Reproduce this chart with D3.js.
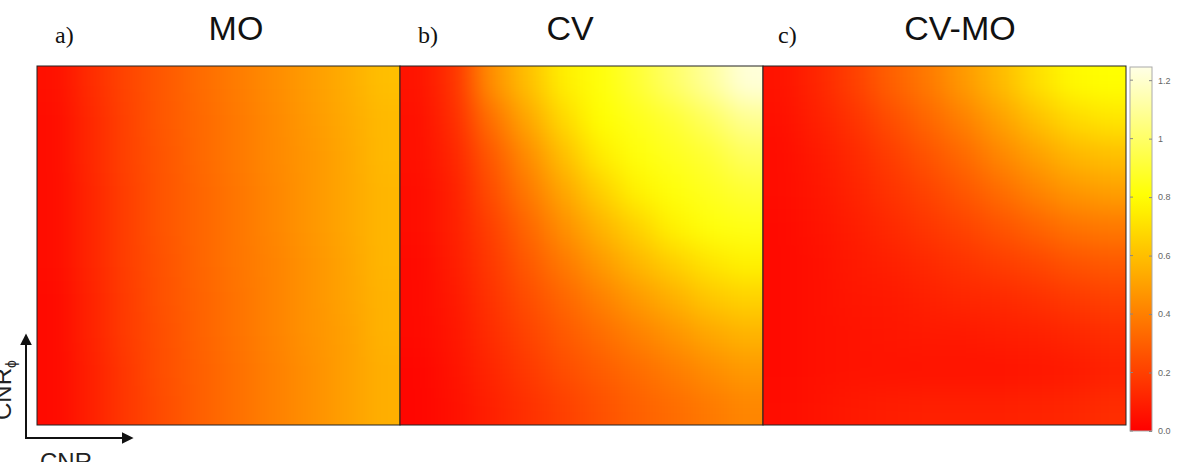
<!DOCTYPE html>
<html>
<head>
<meta charset="utf-8">
<script src="https://cdn.jsdelivr.net/npm/d3@7"></script>
<style>
  body { margin: 0; background: #fff; }
  svg { display: block; }
</style>
</head>
<body>
<div id="chart"></div>
<script>
// panel labels and titles
const panelLabels = ["a)", "b)", "c)"];
const panelTitles = ["MO", "CV", "CV-MO"];

// 10 x 10 grids, row 0 = top, col 0 = left
const moValues = [
  [0.05, 0.14, 0.22, 0.28, 0.34, 0.39, 0.44, 0.49, 0.54, 0.60],
  [0.04, 0.13, 0.21, 0.28, 0.33, 0.38, 0.43, 0.48, 0.53, 0.58],
  [0.04, 0.13, 0.21, 0.27, 0.33, 0.38, 0.43, 0.47, 0.52, 0.58],
  [0.04, 0.12, 0.20, 0.27, 0.32, 0.37, 0.42, 0.47, 0.52, 0.57],
  [0.04, 0.12, 0.20, 0.27, 0.32, 0.37, 0.42, 0.47, 0.52, 0.57],
  [0.04, 0.12, 0.20, 0.26, 0.32, 0.37, 0.41, 0.46, 0.51, 0.57],
  [0.03, 0.11, 0.19, 0.26, 0.31, 0.36, 0.41, 0.46, 0.51, 0.56],
  [0.03, 0.11, 0.19, 0.25, 0.31, 0.36, 0.41, 0.46, 0.50, 0.56],
  [0.03, 0.10, 0.18, 0.25, 0.30, 0.35, 0.40, 0.45, 0.50, 0.55],
  [0.03, 0.10, 0.18, 0.24, 0.30, 0.35, 0.40, 0.45, 0.50, 0.55]
];

const cvValues = [
  [0.06, 0.16, 0.45, 0.60, 0.75, 0.82, 0.90, 1.00, 1.10, 1.22],
  [0.05, 0.14, 0.35, 0.52, 0.68, 0.80, 0.85, 0.90, 0.98, 1.08],
  [0.05, 0.12, 0.28, 0.44, 0.60, 0.74, 0.82, 0.86, 0.90, 0.98],
  [0.04, 0.10, 0.24, 0.38, 0.52, 0.65, 0.76, 0.82, 0.86, 0.90],
  [0.04, 0.10, 0.20, 0.32, 0.45, 0.56, 0.66, 0.76, 0.82, 0.84],
  [0.03, 0.09, 0.18, 0.28, 0.38, 0.48, 0.57, 0.65, 0.72, 0.76],
  [0.03, 0.08, 0.16, 0.24, 0.32, 0.40, 0.48, 0.55, 0.62, 0.66],
  [0.03, 0.07, 0.14, 0.21, 0.28, 0.34, 0.40, 0.46, 0.52, 0.56],
  [0.02, 0.06, 0.12, 0.18, 0.24, 0.29, 0.34, 0.39, 0.44, 0.48],
  [0.02, 0.05, 0.10, 0.15, 0.20, 0.25, 0.30, 0.34, 0.38, 0.42]
];

const cvmoValues = [
  [0.06, 0.12, 0.20, 0.30, 0.38, 0.48, 0.58, 0.70, 0.78, 0.80],
  [0.05, 0.10, 0.16, 0.24, 0.32, 0.40, 0.50, 0.60, 0.68, 0.72],
  [0.04, 0.08, 0.13, 0.19, 0.26, 0.33, 0.42, 0.50, 0.57, 0.60],
  [0.04, 0.07, 0.11, 0.16, 0.21, 0.27, 0.34, 0.41, 0.47, 0.50],
  [0.03, 0.06, 0.09, 0.13, 0.17, 0.21, 0.26, 0.31, 0.36, 0.38],
  [0.03, 0.05, 0.08, 0.10, 0.13, 0.16, 0.19, 0.22, 0.26, 0.28],
  [0.03, 0.05, 0.07, 0.08, 0.10, 0.12, 0.13, 0.15, 0.18, 0.20],
  [0.03, 0.05, 0.06, 0.07, 0.08, 0.08, 0.09, 0.10, 0.12, 0.14],
  [0.03, 0.05, 0.06, 0.06, 0.06, 0.06, 0.06, 0.07, 0.08, 0.10],
  [0.04, 0.06, 0.08, 0.09, 0.10, 0.10, 0.10, 0.11, 0.12, 0.14]
];

const colorTicks = [0, 0.2, 0.4, 0.6, 0.8, 1, 1.2];
const colorTickLabels = ["0.0", "0.2", "0.4", "0.6", "0.8", "1", "1.2"];

const width = 1180, height = 462;
const plotTop = 66, plotBottom = 425;
const panelX = [37, 400, 763, 1126];
const cbar = {x: 1130, w: 22, top: 67, bottom: 431, max: 1.245};

const svg = d3.select("#chart")
    .append("svg")
    .attr("width", width)
    .attr("height", height);

const defs = svg.append("defs");

const color = d3.scaleLinear()
    .domain([0, 0.8, cbar.max])
    .range(["#ff0000", "#ffff00", "#ffffe6"])
    .clamp(true);

const grids = [moValues, cvValues, cvmoValues];
const pad = 40; // edge cells pushed out so the blur does not fade at the border

grids.forEach((grid, p) => {
    const x0 = panelX[p], x1 = panelX[p + 1];
    const x = d3.scaleBand().domain(d3.range(10)).range([x0, x1]);
    const y = d3.scaleBand().domain(d3.range(10)).range([plotTop, plotBottom]);

    defs.append("clipPath")
        .attr("id", "clip" + p)
        .append("rect")
        .attr("x", x0).attr("y", plotTop)
        .attr("width", x1 - x0).attr("height", plotBottom - plotTop);

    defs.append("filter")
        .attr("id", "smooth" + p)
        .attr("filterUnits", "userSpaceOnUse")
        .attr("x", x0 - pad).attr("y", plotTop - pad)
        .attr("width", x1 - x0 + 2 * pad).attr("height", plotBottom - plotTop + 2 * pad)
        .attr("color-interpolation-filters", "sRGB")
        .append("feGaussianBlur")
        .attr("in", "SourceGraphic")
        .attr("stdDeviation", 14);

    const cells = grid.flatMap((row, r) => row.map((v, c) => ({r, c, v})));

    svg.append("g")
        .attr("clip-path", `url(#clip${p})`)
        .append("g")
        .style("filter", `url(#smooth${p})`)
        .selectAll("rect")
        .data(cells)
        .join("rect")
        .attr("x", d => x(d.c) - (d.c === 0 ? pad : 0))
        .attr("y", d => y(d.r) - (d.r === 0 ? pad : 0))
        .attr("width", d => x.bandwidth() + 0.5 + (d.c === 0 || d.c === 9 ? pad : 0))
        .attr("height", d => y.bandwidth() + 0.5 + (d.r === 0 || d.r === 9 ? pad : 0))
        .attr("fill", d => color(d.v));

    svg.append("rect")
        .attr("x", x0).attr("y", plotTop)
        .attr("width", x1 - x0).attr("height", plotBottom - plotTop)
        .attr("fill", "none")
        .attr("stroke", "#222")
        .attr("stroke-width", 1);
});

// labels and titles
const labelX = [55, 418, 778];
const titleX = [236, 570, 960];

svg.selectAll(".plabel")
    .data(panelLabels)
    .join("text")
    .attr("class", "plabel")
    .attr("x", (d, i) => labelX[i])
    .attr("y", 43)
    .attr("font-family", "Liberation Serif, serif")
    .attr("font-size", 24)
    .attr("fill", "#111")
    .text(d => d);

svg.selectAll(".ptitle")
    .data(panelTitles)
    .join("text")
    .attr("class", "ptitle")
    .attr("x", (d, i) => titleX[i])
    .attr("y", 40)
    .attr("text-anchor", "middle")
    .attr("font-family", "Liberation Sans, Arial, sans-serif")
    .attr("font-size", 34)
    .attr("fill", "#111")
    .text(d => d);

// colorbar
const cy = d3.scaleLinear().domain([0, cbar.max]).range([cbar.bottom, cbar.top]);
const grad = defs.append("linearGradient")
    .attr("id", "cgrad")
    .attr("x1", 0).attr("y1", 1).attr("x2", 0).attr("y2", 0);
d3.range(0, 1.0001, 0.05).forEach(t => {
    grad.append("stop")
        .attr("offset", t)
        .attr("stop-color", color(t * cbar.max));
});

svg.append("rect")
    .attr("x", cbar.x).attr("y", cbar.top)
    .attr("width", cbar.w).attr("height", cbar.bottom - cbar.top)
    .attr("fill", "url(#cgrad)")
    .attr("stroke", "#aaa")
    .attr("stroke-width", 1);

const cAxis = svg.append("g")
    .attr("transform", `translate(${cbar.x + cbar.w},0)`)
    .call(d3.axisRight(cy)
        .tickValues(colorTicks)
        .tickFormat((d, i) => colorTickLabels[i])
        .tickSize(-3)
        .tickPadding(6));
cAxis.select(".domain").remove();
cAxis.selectAll("line").attr("stroke", "#888");
cAxis.selectAll("text")
    .attr("font-family", "Liberation Sans, Arial, sans-serif")
    .attr("font-size", 9)
    .attr("fill", "#666");

svg.append("g")
    .selectAll("line")
    .data(colorTicks)
    .join("line")
    .attr("x1", cbar.x).attr("x2", cbar.x + 3)
    .attr("y1", d => cy(d)).attr("y2", d => cy(d))
    .attr("stroke", "#888");

// axis arrows bottom-left
defs.append("marker")
    .attr("id", "arrow")
    .attr("viewBox", "0 0 10 10")
    .attr("refX", 2).attr("refY", 5)
    .attr("markerWidth", 6).attr("markerHeight", 6)
    .attr("markerUnits", "strokeWidth")
    .attr("orient", "auto")
    .append("path")
    .attr("d", "M0,0 L10,5 L0,10 Z")
    .attr("fill", "#111");

svg.append("path")
    .attr("d", "M26,438 L26,343")
    .attr("stroke", "#111").attr("stroke-width", 2)
    .attr("fill", "none")
    .attr("marker-end", "url(#arrow)");

svg.append("path")
    .attr("d", "M25,438 L124,438")
    .attr("stroke", "#111").attr("stroke-width", 2)
    .attr("fill", "none")
    .attr("marker-end", "url(#arrow)");

const yLab = svg.append("text")
    .attr("transform", "translate(11,420) rotate(-90)")
    .attr("font-family", "Liberation Sans, Arial, sans-serif")
    .attr("font-size", 24)
    .attr("fill", "#222");
yLab.append("tspan").text("CNR");
yLab.append("tspan").attr("font-size", 14).attr("dy", 5).text("ϕ");

svg.append("text")
    .attr("x", 40)
    .attr("y", 470)
    .attr("font-family", "Liberation Sans, Arial, sans-serif")
    .attr("font-size", 24)
    .attr("fill", "#222")
    .text("CNR");
</script>
</body>
</html>
